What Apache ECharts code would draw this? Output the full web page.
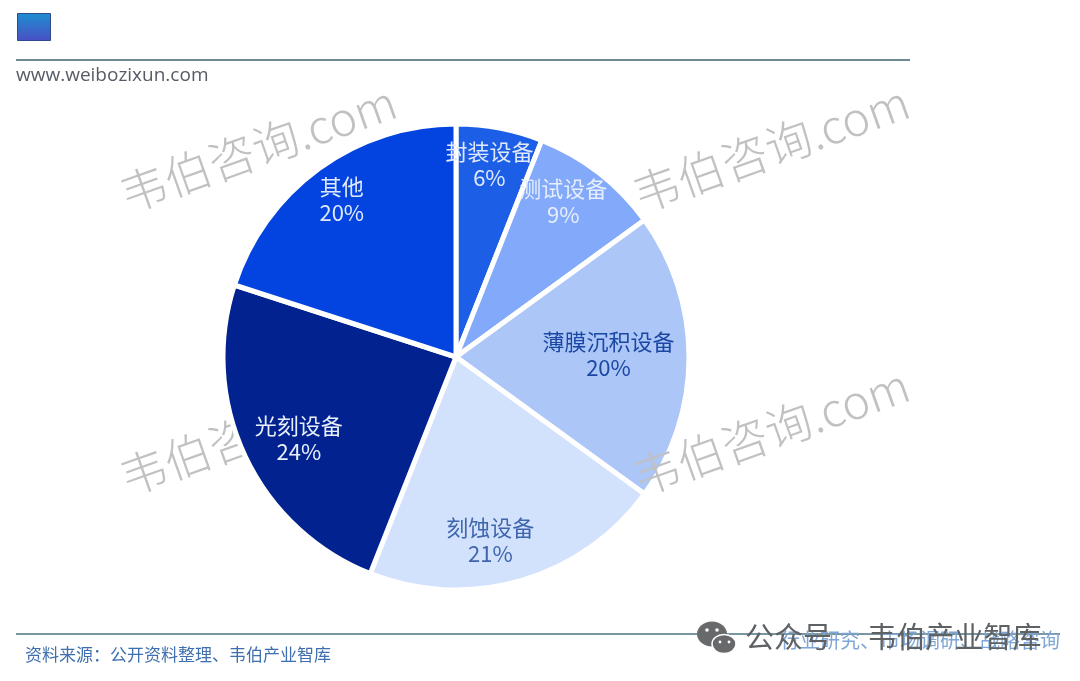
<!DOCTYPE html>
<html><head><meta charset="utf-8">
<style>html,body{margin:0;padding:0;background:#fff}#c{width:1080px;height:681px}</style>
<script src="https://cdn.jsdelivr.net/npm/echarts@6/dist/echarts.min.js"></script>
</head><body><div id="c"></div>
<script>
const categories = ['封装设备','测试设备','薄膜沉积设备','刻蚀设备','光刻设备','其他'];
const shares = [6,9,20,21,24,20];
const sliceColors = ['#1c5fe6','#82a9fa','#adc6f8','#d3e2fc','#02238f','#0344e0'];
const labelColors = ['#dfe9fb','#e6eefc','#1a47a3','#3f66ad','#e8effb','#dfe9fb'];
const labelShift = [[11,-75],[34,-61],[33,-2],[1,69],[-49,31],[-44,-61]];
const site = 'www.weibozixun.com';
const source = '资料来源：公开资料整理、韦伯产业智库';
const footerRight = '行业研究、市场调研、战略咨询';
const wechat = '公众号　 韦伯产业智库';
const mark = '韦伯咨询.com';
const markSpots = [[258,148],[771,148],[258,431],[771,431]];

function wm(p,i){return {type:'text',x:p[0],y:p[1],rotation:19.5*Math.PI/180,z:i===3?10:-10,
  style:{text:mark,fill:'#bfc1c3',font:'300 46.5px "Noto Sans CJK SC"',align:'center',verticalAlign:'middle'}};}
function eye(x,y,r){return {type:'circle',shape:{cx:x,cy:y,r:r},z:7,style:{fill:'#ffffff'}};}

const chart = echarts.init(document.getElementById('c'),null,{renderer:'canvas'});
chart.setOption({
  animation:false,
  backgroundColor:'#ffffff',
  graphic:{elements:[
    ...markSpots.map(wm),
    {type:'rect',shape:{x:17.5,y:13.5,width:33,height:27},z:5,
      style:{stroke:'#2f4a8c',lineWidth:1,fill:new echarts.graphic.LinearGradient(0,0,0,1,[{offset:0,color:'#1d8fd0'},{offset:1,color:'#4a4fc4'}])}},
    {type:'line',shape:{x1:16,y1:60,x2:910,y2:60},z:5,style:{stroke:'#3f6270',lineWidth:1.4}},
    {type:'text',x:16,y:76,z:5,style:{text:site,fill:'#555c66',font:'19px "Open Sans"',verticalAlign:'middle',letterSpacing:2.1}},
    {type:'line',shape:{x1:16,y1:634,x2:1060,y2:634},z:5,style:{stroke:'#4d7384',lineWidth:1.6}},
    {type:'text',x:25,y:655,z:5,style:{text:source,fill:'#3f6fae',font:'17px "Noto Sans CJK SC"',verticalAlign:'middle'}},
    {type:'text',x:1060,y:640,z:5,style:{text:footerRight,fill:'#7fa6d6',font:'20px "Noto Sans CJK SC"',align:'right',verticalAlign:'middle'}},
    {type:'ellipse',shape:{cx:712,cy:634,rx:15,ry:12.5},z:6,style:{fill:'#67696b'}},
    {type:'ellipse',shape:{cx:724,cy:644,rx:12,ry:9.5},z:6,style:{fill:'#67696b',stroke:'#ffffff',lineWidth:1.5}},
    eye(707,630,1.8),eye(717,630,1.8),eye(720,642,1.4),eye(729,642,1.4),
    {type:'text',x:745,y:637,z:6,style:{text:wechat,fill:'#5f6265',font:'29px "Noto Sans CJK SC"',verticalAlign:'middle'}}
  ]},
  series:[{
    type:'pie',
    center:[456,357],
    radius:[0,233],
    startAngle:90,
    clockwise:true,
    z:2,
    itemStyle:{borderColor:'#ffffff',borderWidth:5},
    emphasis:{disabled:true},
    label:{show:true,position:'inside',formatter:'{b}\n{c}%',fontFamily:'"Noto Sans CJK SC"',fontSize:22,lineHeight:26},
    labelLine:{show:false},
    labelLayout:function(p){const s=labelShift[p.dataIndex];return {dx:s[0],dy:s[1]};},
    data:categories.map((n,i)=>({name:n,value:shares[i],itemStyle:{color:sliceColors[i]},label:{color:labelColors[i]}}))
  }]
});
</script></body></html>
